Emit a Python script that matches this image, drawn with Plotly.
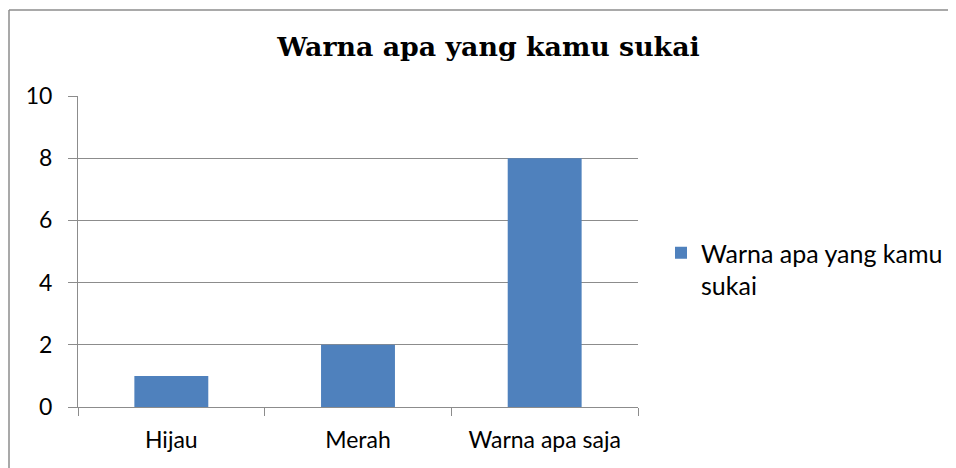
import plotly.graph_objects as go

categories = ["Hijau", "Merah", "Warna apa saja"]
values = [1, 2, 8]
series_name = "Warna apa yang kamu<br>sukai"
title_text = "Warna apa yang kamu sukai"
y_ticks = [0, 2, 4, 6, 8, 10]

# page is drawn with an 8px body offset; layout in figure pixels
W, H = 956, 468
ml, mr, mt, mb = 70, 326, 88, 69
pw, ph = W - ml - mr, H - mt - mb

def px_x(x):
    return (x - ml) / pw

def px_y(y):
    return 1 - (y - mt) / ph

fig = go.Figure()
fig.add_trace(go.Bar(
    x=categories, y=values, name=series_name,
    marker=dict(color="#4F81BD", line=dict(width=0)),
    showlegend=True,
))

grid = "#8c8c8c"
tick_font = dict(family="Lato, Open Sans, sans-serif", size=23, color="black")
fig.update_layout(
    width=W, height=H,
    margin=dict(l=ml, r=mr, t=mt, b=mb),
    paper_bgcolor="white", plot_bgcolor="white",
    bargap=0.604,
    title=dict(text="<b>" + title_text + "</b>", x=480.5 / W, xanchor="center",
               y=1 - 39 / H, yanchor="middle",
               font=dict(family="DejaVu Serif, serif", size=26.8, color="black")),
    font=dict(family="Lato, Open Sans, sans-serif", size=20, color="black"),
    xaxis=dict(showline=True, linecolor=grid, linewidth=1, ticks="outside",
               tickson="boundaries", ticklen=8, tickcolor=grid, tickwidth=1,
               showgrid=False, ticklabelstandoff=12, tickfont=tick_font),
    yaxis=dict(range=[0, 10], tickvals=y_ticks, showline=True, linecolor=grid, linewidth=1,
               ticks="outside", ticklen=9, tickcolor=grid, tickwidth=1,
               showgrid=True, gridcolor=grid, gridwidth=1, zeroline=False,
               ticklabelstandoff=11, tickfont=tick_font),
    legend=dict(x=px_x(653), y=px_y(222), xanchor="left", yanchor="top",
                valign="top",
                font=dict(family="Lato, Open Sans, sans-serif", size=25, color="black"),
                itemwidth=30, tracegroupgap=0),
    shapes=[
        dict(type="line", xref="paper", yref="paper", x0=px_x(1), x1=px_x(960),
             y0=px_y(2), y1=px_y(2), line=dict(color="#8c8c8c", width=1.5)),
        dict(type="line", xref="paper", yref="paper", x0=px_x(1), x1=px_x(1),
             y0=px_y(2), y1=px_y(470), line=dict(color="#8c8c8c", width=1.5)),
    ],
)

fig.write_html("out.html")
